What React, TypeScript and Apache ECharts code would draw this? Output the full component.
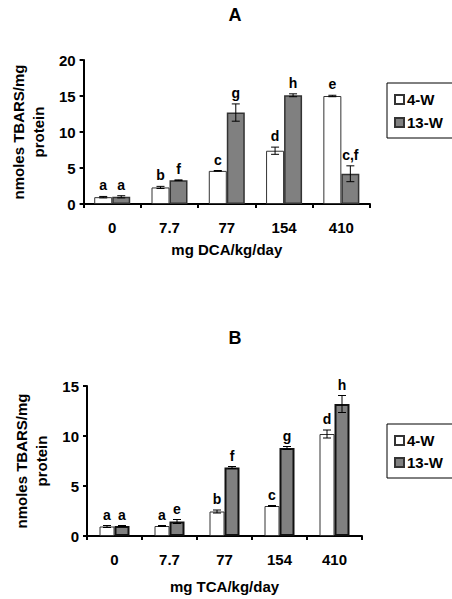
import React, { useEffect, useRef } from "react";
import * as echarts from "echarts";

const categories = ["0", "7.7", "77", "154", "410"];

const dcaW4 = [0.95, 2.3, 4.6, 7.4, 15.0];
const dcaW4Err = [0.1, 0.15, 0.05, 0.5, 0.1];
const dcaW4Letters = ["a", "b", "c", "d", "e"];
const dcaW13 = [1.0, 3.3, 12.7, 15.1, 4.2];
const dcaW13Err = [0.15, 0.05, 1.2, 0.2, 1.1];
const dcaW13Letters = ["a", "f", "g", "h", "c,f"];

const tcaW4 = [0.95, 1.0, 2.45, 3.0, 10.2];
const tcaW4Err = [0.1, 0.05, 0.15, 0.05, 0.4];
const tcaW4Letters = ["a", "a", "b", "c", "d"];
const tcaW13 = [1.0, 1.45, 6.85, 8.8, 13.2];
const tcaW13Err = [0.05, 0.2, 0.1, 0.15, 0.85];
const tcaW13Letters = ["a", "e", "f", "g", "h"];

const yTicksA = { min: 0, max: 20, interval: 5 };
const yTicksB = { min: 0, max: 15, interval: 5 };

const FONT = 'Arial, "Liberation Sans", sans-serif';

function errSeries(
  vals: number[],
  errs: number[],
  letters: string[],
  axisIdx: number,
  offset: number
) {
  return {
    type: "custom",
    xAxisIndex: axisIdx,
    yAxisIndex: axisIdx,
    silent: true,
    z: 5,
    data: vals.map((v, i) => [i, v, errs[i]]),
    renderItem: (params: any, api: any) => {
      const ci = api.value(0);
      const v = api.value(1);
      const e = api.value(2);
      const top = api.coord([ci, v + e]);
      const bot = api.coord([ci, v - e]);
      const x = top[0] + offset;
      const cap = 4;
      const ls = { stroke: "#000", lineWidth: 1 };
      return {
        type: "group",
        children: [
          { type: "line", shape: { x1: x, y1: top[1], x2: x, y2: bot[1] }, style: ls },
          { type: "line", shape: { x1: x - cap, y1: top[1], x2: x + cap, y2: top[1] }, style: ls },
          { type: "line", shape: { x1: x - cap, y1: bot[1], x2: x + cap, y2: bot[1] }, style: ls },
          {
            type: "text",
            x: x,
            y: top[1] - 4,
            style: {
              text: letters[params.dataIndex],
              align: "center",
              verticalAlign: "bottom",
              fontSize: 14,
              fontWeight: "bold",
              fontFamily: FONT,
              fill: "#000",
            },
          },
        ],
      };
    },
  };
}

function xAxisCfg(gridIndex: number, name: string, nameGap: number) {
  return {
    type: "category",
    gridIndex,
    data: categories,
    axisLine: { lineStyle: { color: "#000", width: 2 } },
    axisTick: { show: true, length: 4, lineStyle: { color: "#000", width: 2 } },
    axisLabel: { color: "#000", fontSize: 15, fontWeight: "bold", fontFamily: FONT, margin: 16 },
    name,
    nameLocation: "middle",
    nameGap,
    nameTextStyle: { color: "#000", fontSize: 15, fontWeight: "bold", fontFamily: FONT },
  };
}

function yAxisCfg(gridIndex: number, ticks: any, nameGap: number) {
  return {
    type: "value",
    gridIndex,
    min: ticks.min,
    max: ticks.max,
    interval: ticks.interval,
    splitLine: { show: false },
    axisLine: { show: true, lineStyle: { color: "#000", width: 2 } },
    axisTick: { show: true, length: 4, lineStyle: { color: "#000", width: 2 } },
    axisLabel: { color: "#000", fontSize: 15, fontWeight: "bold", fontFamily: FONT, margin: 8 },
    name: "nmoles TBARS/mg\nprotein",
    nameLocation: "middle",
    nameRotate: 90,
    nameGap,
    nameTextStyle: {
      color: "#000",
      fontSize: 15,
      fontWeight: "bold",
      fontFamily: FONT,
      lineHeight: 20,
      align: "center",
    },
  };
}

export default function App() {
  const ref = useRef<HTMLDivElement>(null);
  useEffect(() => {
    document.body.style.margin = "0";
    if (!ref.current) return;
    const chart = echarts.init(ref.current, null, { renderer: "svg" });
    const white = { color: "#fff", borderColor: "#333", borderWidth: 1 };
    const greyA = { color: "#808080", borderColor: "#333", borderWidth: 1.5 };
    const greyB = { color: "#808080", borderColor: "#111", borderWidth: 2 };
    const legendCommon = {
      orient: "vertical",
      icon: "rect",
      itemWidth: 9,
      itemHeight: 9,
      itemGap: 8,
      borderColor: "#000",
      borderWidth: 1,
      padding: [9, 12, 8, 7],
      textStyle: { color: "#000", fontSize: 15, fontWeight: "bold", fontFamily: FONT, padding: [0, 0, 0, -2] },
      data: ["4-W", "13-W"],
    };
    chart.setOption({
      animation: false,
      textStyle: { fontFamily: FONT },
      title: [
        {
          text: "A",
          left: 230,
          top: 1,
          textAlign: "center",
          textStyle: { color: "#000", fontSize: 18, fontWeight: "bold", fontFamily: FONT },
        },
        {
          text: "B",
          left: 230,
          top: 324,
          textAlign: "center",
          textStyle: { color: "#000", fontSize: 18, fontWeight: "bold", fontFamily: FONT },
        },
      ],
      legend: [
        { ...legendCommon, left: 387, top: 83 },
        { ...legendCommon, left: 387, top: 424, itemGap: 7 },
      ],
      grid: [
        { left: 63, right: 82, top: 60, bottom: 395, containLabel: false },
        { left: 87, right: 90, top: 386, bottom: 63, containLabel: false },
      ],
      xAxis: [xAxisCfg(0, "mg DCA/kg/day", 38), xAxisCfg(1, "mg TCA/kg/day", 43)],
      yAxis: [yAxisCfg(0, yTicksA, 23), yAxisCfg(1, yTicksB, 34)],
      series: [
        { type: "bar", name: "4-W", xAxisIndex: 0, yAxisIndex: 0, data: dcaW4, barWidth: 18, barGap: "0%", itemStyle: white },
        { type: "bar", name: "13-W", xAxisIndex: 0, yAxisIndex: 0, data: dcaW13, barWidth: 18, barGap: "0%", itemStyle: greyA },
        { type: "bar", name: "4-W", xAxisIndex: 1, yAxisIndex: 1, data: tcaW4, barWidth: 15, barGap: "0%", itemStyle: white },
        { type: "bar", name: "13-W", xAxisIndex: 1, yAxisIndex: 1, data: tcaW13, barWidth: 15, barGap: "0%", itemStyle: greyB },
        errSeries(dcaW4, dcaW4Err, dcaW4Letters, 0, -9),
        errSeries(dcaW13, dcaW13Err, dcaW13Letters, 0, 9),
        errSeries(tcaW4, tcaW4Err, tcaW4Letters, 1, -7.5),
        errSeries(tcaW13, tcaW13Err, tcaW13Letters, 1, 7.5),
      ],
    });
    return () => chart.dispose();
  }, []);
  return <div ref={ref} style={{ width: 452, height: 599 }} />;
}
